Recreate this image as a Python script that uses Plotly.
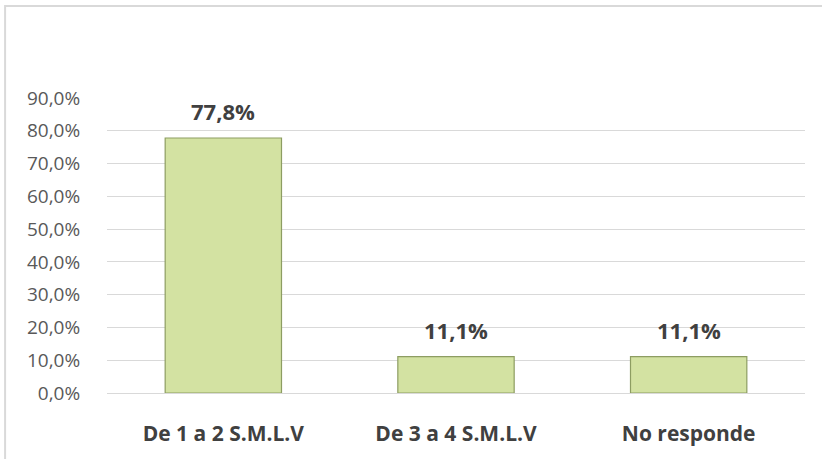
import plotly.graph_objects as go

categories = ["De 1 a 2 S.M.L.V", "De 3 a 4 S.M.L.V", "No responde"]
values = [0.778, 0.111, 0.111]

FONT = "Open Sans"

fig = go.Figure()
fig.add_trace(go.Bar(
    x=categories, y=values,
    width=0.5,
    marker=dict(color="#d3e2a2", line=dict(color="#8d9d62", width=1.2)),
    hoverinfo="skip",
))

for c, v in zip(categories, values):
    fig.add_annotation(x=c, y=v, text=f"{v*100:.1f}%".replace(".", ","),
                       showarrow=False, yanchor="middle", yshift=27,
                       font=dict(family=FONT, size=22, color="#404040", weight="bold"))

fig.update_layout(
    width=822, height=459,
    margin=dict(l=107, r=17, t=98, b=63),
    paper_bgcolor="white", plot_bgcolor="white",
    separators=",.",
    showlegend=False,
    yaxis=dict(range=[0, 0.9], dtick=0.1, tickformat=".1%",
               showgrid=True, gridcolor="#d9d9d9", gridwidth=1,
               zeroline=False, showline=False,
               tickfont=dict(family=FONT, size=19, color="#595959"),
               ticks="outside", ticklen=22, tickcolor="rgba(0,0,0,0)"),
    xaxis=dict(showline=True, linecolor="#d9d9d9", linewidth=1,
               tickfont=dict(family=FONT, size=21, color="#404040", weight="bold"),
               ticks="outside", ticklen=22, tickcolor="rgba(0,0,0,0)"),
    shapes=[dict(type="rect", xref="paper", yref="paper",
                 x0=-0.146, x1=1.1, y0=-0.4, y1=1.312,
                 line=dict(color="#d9d9d9", width=2), layer="below")],
)

fig.write_html("out.html", config={"displayModeBar": False},
               post_script="document.body.style.margin='0';")
